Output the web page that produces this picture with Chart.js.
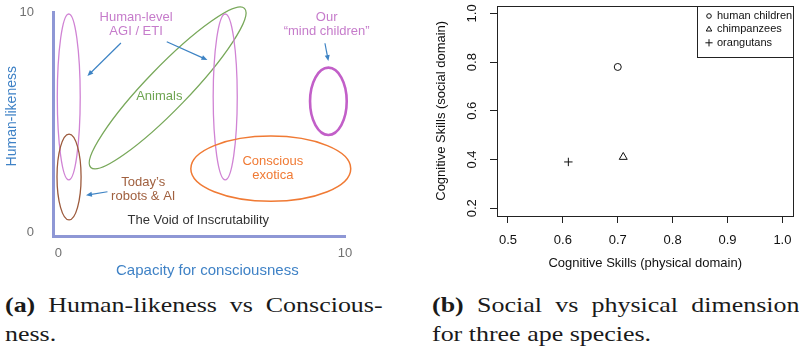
<!DOCTYPE html>
<html>
<head>
<meta charset="utf-8">
<script src="https://cdn.jsdelivr.net/npm/chart.js@4.4.0/dist/chart.umd.min.js"></script>
<style>
  html, body { margin: 0; padding: 0; background: #fff; }
  #page { position: relative; width: 799px; height: 350px; overflow: hidden; }
  canvas { position: absolute; top: 0; }
  #left { left: 0; }
  #right { left: 400px; }
  .cap {
    position: absolute; font-family: "Liberation Serif", serif; font-size: 22px;
    line-height: 22px; color: #1a1a1a; white-space: nowrap;
    transform: scaleX(1.18); transform-origin: 0 0;
  }
  .just { text-align: justify; text-align-last: justify; width: 320px; }
</style>
</head>
<body>
<div id="page">
  <canvas id="left" width="400" height="280"></canvas>
  <canvas id="right" width="399" height="280"></canvas>
  <div class="cap just" style="left:5px; top:294px;"><b>(a)</b> Human-likeness vs Conscious-</div>
  <div class="cap" style="left:5px; top:323px;">ness.</div>
  <div class="cap just" style="left:432px; top:294px;"><b>(b)</b> Social vs physical dimensions</div>
  <div class="cap" style="left:432px; top:323px;">for three ape species.</div>
</div>
<script>
// (a) regions of the space of possible minds (axis units)
const regionX = [0.36, 0.37, 3.81, 5.82, 7.41, 9.42];
const regionY = [6.14, 2.50, 6.55, 6.14, 2.88, 5.94];
const regionRx = [0.40, 0.42, 3.86, 0.42, 2.79, 0.64];
const regionRy = [3.77, 1.95, 0.96, 3.77, 1.48, 1.53];
const regionTilt = [0, 0, 46, 0, 0, 0];

const labelText = [['Human-level', 'AGI / ETI'], ['Our', '\u201Cmind children\u201D'], ['Animals'],
  ['Conscious', 'exotica'], ['Today\u2019s', 'robots & AI'], ['The Void of Inscrutability']];
const labelX = [2.71, 9.36, 3.52, 7.48, 2.96, 4.88];
const labelY = [9.43, 9.43, 6.15, 2.88, 1.93, 0.55];

const arrowX0 = [2.18, 3.78, 9.30, 1.71];
const arrowY0 = [8.59, 8.65, 8.58, 1.83];
const arrowX1 = [1.01, 5.20, 9.42, 0.96];
const arrowY1 = [7.09, 7.82, 7.77, 1.67];

const axisTicks = [0, 10];

// (b) ape species
const species = ['human children', 'chimpanzees', 'orangutans'];
const physical = [0.70, 0.71, 0.61];
const social = [0.78, 0.41, 0.39];
const xTicks = [0.5, 0.6, 0.7, 0.8, 0.9, 1.0];
const yTicks = [0.2, 0.4, 0.6, 0.8, 1.0];

const sans = 'Liberation Sans, Arial, sans-serif';
const pink = '#d083d4';
const regionColor = [pink, '#9c5a3c', '#78a85a', pink, '#f07a34', '#c25fc8'];
const regionWidth = [1.3, 1.3, 1.3, 1.3, 1.5, 2.6];
const labelColor = ['#c67ccb', '#c67ccb', '#6fa552', '#f07a34', '#a0603f', '#333333'];

// keep the chart area where it is, whatever the tick labels want
function noEdgePadding(s) {
  s.paddingLeft = 0;
  s.paddingRight = 0;
  s.paddingTop = 0;
  s.paddingBottom = 0;
}

const regions = {
  id: 'regions',
  afterDatasetsDraw(chart) {
    const {ctx, scales: {x, y}} = chart;
    const kx = Math.abs(x.getPixelForValue(1) - x.getPixelForValue(0));
    const ky = Math.abs(y.getPixelForValue(1) - y.getPixelForValue(0));
    const meta = chart.getDatasetMeta(0);
    ctx.save();
    meta.data.forEach((pt, i) => {
      ctx.beginPath();
      ctx.ellipse(pt.x, pt.y, regionRx[i] * kx, regionRy[i] * ky, -regionTilt[i] * Math.PI / 180, 0, Math.PI * 2);
      ctx.strokeStyle = regionColor[i];
      ctx.lineWidth = regionWidth[i];
      ctx.stroke();
    });

    // arrows
    ctx.strokeStyle = '#3d83c4';
    ctx.fillStyle = '#3d83c4';
    ctx.lineWidth = 1.2;
    arrowX0.forEach((v, i) => {
      const x0 = x.getPixelForValue(v), y0 = y.getPixelForValue(arrowY0[i]);
      const x1 = x.getPixelForValue(arrowX1[i]), y1 = y.getPixelForValue(arrowY1[i]);
      const a = Math.atan2(y1 - y0, x1 - x0);
      ctx.beginPath();
      ctx.moveTo(x0, y0);
      ctx.lineTo(x1 - 4 * Math.cos(a), y1 - 4 * Math.sin(a));
      ctx.stroke();
      ctx.beginPath();
      ctx.moveTo(x1, y1);
      ctx.lineTo(x1 - 6 * Math.cos(a) + 2.5 * Math.sin(a), y1 - 6 * Math.sin(a) - 2.5 * Math.cos(a));
      ctx.lineTo(x1 - 6 * Math.cos(a) - 2.5 * Math.sin(a), y1 - 6 * Math.sin(a) + 2.5 * Math.cos(a));
      ctx.closePath();
      ctx.fill();
    });

    // region labels
    ctx.font = '13px ' + sans;
    ctx.textAlign = 'center';
    ctx.textBaseline = 'middle';
    labelText.forEach((lines, i) => {
      const px = x.getPixelForValue(labelX[i]);
      const py = y.getPixelForValue(labelY[i]);
      ctx.fillStyle = labelColor[i];
      lines.forEach((t, j) => ctx.fillText(t, px, py + (j - (lines.length - 1) / 2) * 14.5));
    });
    ctx.restore();
  }
};

new Chart(document.getElementById('left'), {
  type: 'scatter',
  data: {
    datasets: [{
      data: regionX.map((v, i) => ({x: v, y: regionY[i]})),
      pointRadius: 0
    }]
  },
  options: {
    responsive: false,
    animation: false,
    layout: {padding: {top: 12, right: 55, left: 0, bottom: 0}},
    plugins: {legend: {display: false}, tooltip: {enabled: false}},
    scales: {
      x: {
        type: 'linear', min: -0.19, max: 10,
        afterBuildTicks: s => { s.ticks = axisTicks.map(v => ({value: v})); },
        afterFit: s => { s.height = 44; noEdgePadding(s); },
        grid: {display: false},
        border: {color: '#8e97d5', width: 3},
        ticks: {padding: 2, color: '#707070', font: {family: sans, size: 13}},
        title: {display: true, text: '    Capacity for consciousness', color: '#3f82c6',
          font: {family: sans, size: 15}, padding: {top: 0, bottom: 0}}
      },
      y: {
        type: 'linear', min: -0.18, max: 10,
        afterBuildTicks: s => { s.ticks = axisTicks.map(v => ({value: v})); },
        afterFit: s => { s.width = 53; noEdgePadding(s); },
        grid: {display: false},
        border: {color: '#8e97d5', width: 3},
        ticks: {padding: 11, color: '#707070', font: {family: sans, size: 13}},
        title: {display: true, text: '    Human-likeness', color: '#3f82c6',
          font: {family: sans, size: 14}, padding: {top: 4, bottom: 0}}
      }
    }
  },
  plugins: [regions]
});

// R-style box, rotated y labels and boxed legend
const rStyle = {
  id: 'rStyle',
  afterDraw(chart) {
    const {ctx, chartArea: a, scales: {y}} = chart;
    ctx.save();
    ctx.strokeStyle = '#222';
    ctx.lineWidth = 1;
    ctx.strokeRect(Math.round(a.left) + 0.5, Math.round(a.top) + 0.5,
      Math.round(a.right - a.left), Math.round(a.bottom - a.top));

    ctx.fillStyle = '#111';
    ctx.font = '13px ' + sans;
    ctx.textAlign = 'center';
    ctx.textBaseline = 'middle';
    y.ticks.forEach(t => {
      ctx.save();
      ctx.translate(72, y.getPixelForValue(t.value));
      ctx.rotate(-Math.PI / 2);
      ctx.fillText(t.value.toFixed(1), 0, 0);
      ctx.restore();
    });

    const bx = 297, by = Math.round(a.top), bw = Math.round(a.right) - 297, bh = 51;
    ctx.fillStyle = '#fff';
    ctx.fillRect(bx, by, bw, bh);
    ctx.strokeRect(bx + 0.5, by + 0.5, bw, bh);
    ctx.font = '11px ' + sans;
    ctx.textAlign = 'left';
    chart.data.datasets.forEach((ds, i) => {
      const ly = 16 + i * 13.4;
      ctx.fillStyle = 'rgba(0,0,0,0)';
      ctx.strokeStyle = '#111';
      Chart.helpers.drawPoint(ctx, {pointStyle: ds.pointStyle, radius: ds.legendRadius, borderWidth: 1, rotation: 0}, 309, ly);
      ctx.fillStyle = '#111';
      ctx.fillText(ds.label, 317, ly);
    });
    ctx.restore();
  }
};

const apeSymbols = ['circle', 'triangle', 'cross'];
const apeRadius = [3.5, 4.6, 4.2];
const apeLegendRadius = [2.3, 3.2, 3.6];

new Chart(document.getElementById('right'), {
  type: 'scatter',
  data: {
    datasets: species.map((name, i) => ({
      label: name,
      data: [{x: physical[i], y: social[i]}],
      pointStyle: apeSymbols[i],
      pointRadius: apeRadius[i],
      legendRadius: apeLegendRadius[i],
      borderColor: '#111',
      backgroundColor: 'rgba(0,0,0,0)',
      borderWidth: 1
    }))
  },
  options: {
    responsive: false,
    animation: false,
    layout: {padding: {top: 3, right: 2, left: 0, bottom: 0}},
    plugins: {legend: {display: false}, tooltip: {enabled: false}},
    scales: {
      x: {
        type: 'linear', min: 0.48, max: 1.02,
        afterBuildTicks: s => { s.ticks = xTicks.map(v => ({value: v})); },
        afterFit: s => { s.height = 64; noEdgePadding(s); },
        grid: {drawOnChartArea: false, tickLength: 7, color: '#222'},
        border: {display: false},
        ticks: {padding: 10, color: '#111', maxRotation: 0, font: {family: sans, size: 13},
          callback: v => v.toFixed(1)},
        title: {display: true, text: 'Cognitive Skills (physical domain)', color: '#111',
          font: {family: sans, size: 13}, padding: {top: 0, bottom: 9}}
      },
      y: {
        type: 'linear', min: 0.168, max: 1.032,
        afterBuildTicks: s => { s.ticks = yTicks.map(v => ({value: v})); },
        afterFit: s => { s.width = 97; noEdgePadding(s); },
        grid: {drawOnChartArea: false, tickLength: 7, color: '#222'},
        border: {display: false},
        ticks: {display: false},
        title: {display: true, text: 'Cognitive Skills (social domain)', color: '#111',
          font: {family: sans, size: 13}, padding: {top: 34, bottom: 0}}
      }
    }
  },
  plugins: [rStyle]
});
</script>
</body>
</html>
